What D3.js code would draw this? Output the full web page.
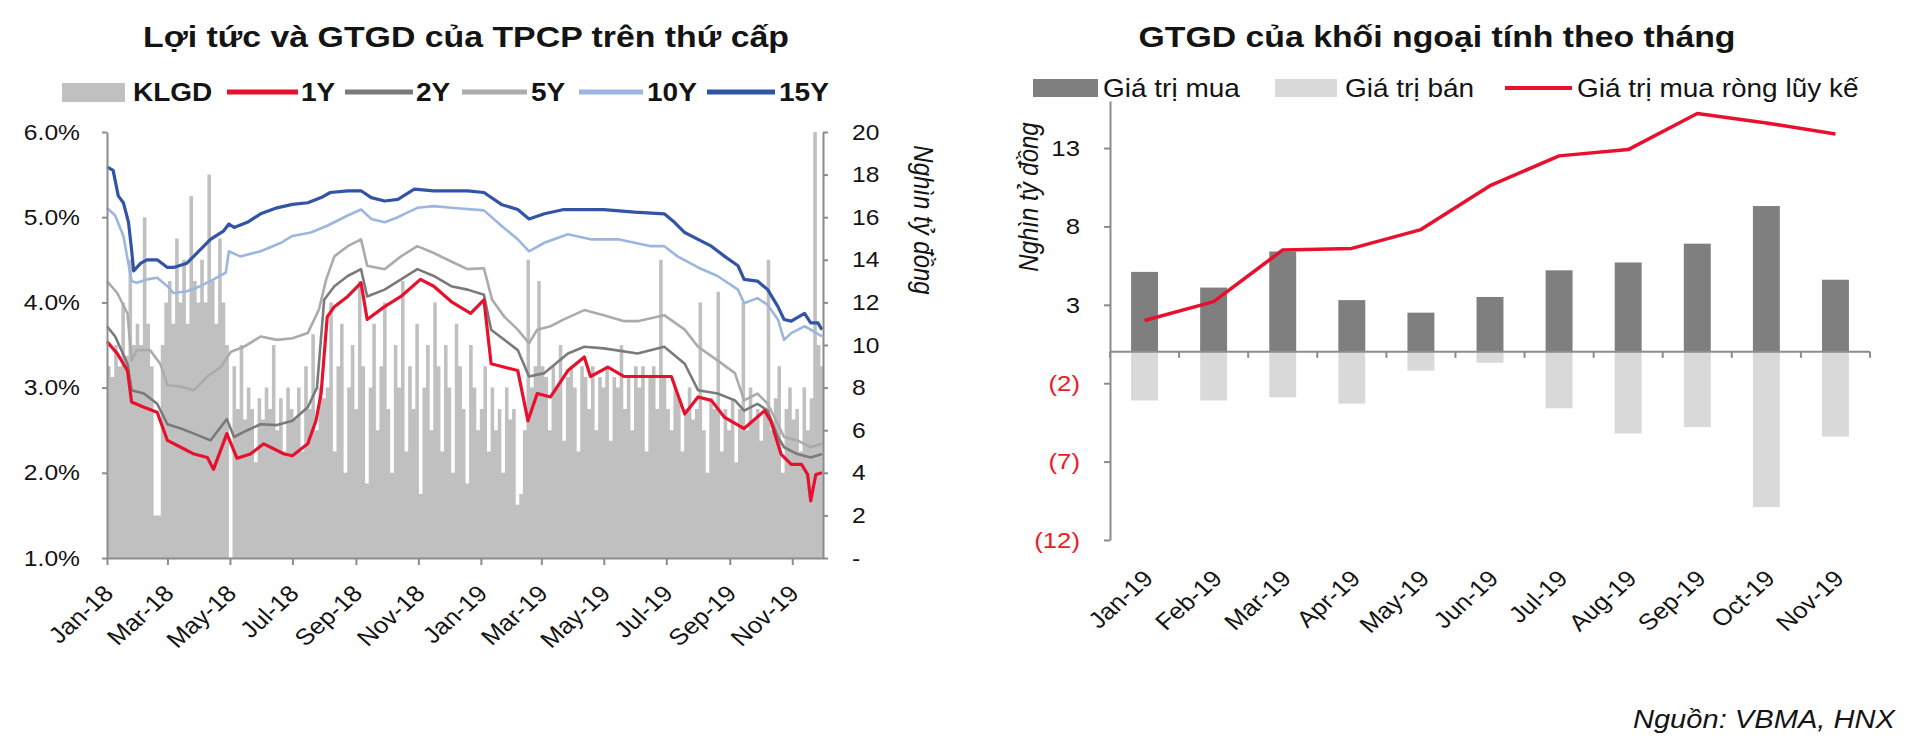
<!DOCTYPE html>
<html><head><meta charset="utf-8">
<script src="https://cdn.jsdelivr.net/npm/d3@7"></script>
<style>
body{margin:0;background:#fff;}
svg{display:block;font-family:"Liberation Sans",Arial,sans-serif;}
</style>
</head><body>
<svg id="c" width="1920" height="754"></svg>
<script>
// ---------------- LEFT CHART DATA ----------------
const leftTitle = "Lợi tức và GTGD của TPCP trên thứ cấp";
const leftLegend = ["KLGD", "1Y", "2Y", "5Y", "10Y", "15Y"];
const leftYTicks = [1, 2, 3, 4, 5, 6];
const rightYTicks = [0, 2, 4, 6, 8, 10, 12, 14, 16, 18, 20];
const rightAxisTitle = "Nghìn tỷ đồng";

const y1Y = [["2018-01-01",3.54],["2018-01-11",3.40],["2018-01-21",3.20],["2018-01-25",2.83],["2018-02-06",2.77],["2018-02-19",2.71],["2018-03-01",2.38],["2018-03-14",2.30],["2018-03-27",2.22],["2018-04-09",2.18],["2018-04-15",2.04],["2018-04-28",2.46],["2018-05-08",2.17],["2018-05-21",2.22],["2018-06-03",2.34],["2018-06-23",2.22],["2018-07-01",2.20],["2018-07-16",2.34],["2018-07-24",2.61],["2018-07-29",2.93],["2018-08-04",3.83],["2018-08-11",3.95],["2018-08-24",4.07],["2018-09-06",4.23],["2018-09-12",3.80],["2018-09-29",3.95],["2018-10-15",4.07],["2018-11-03",4.27],["2018-11-16",4.19],["2018-12-03",4.01],["2018-12-22",3.87],["2019-01-04",4.03],["2019-01-11",3.28],["2019-02-06",3.20],["2019-02-16",2.61],["2019-02-25",2.93],["2019-03-10",2.89],["2019-03-27",3.20],["2019-04-12",3.36],["2019-04-18",3.13],["2019-05-05",3.24],["2019-05-21",3.13],["2019-06-16",3.13],["2019-07-06",3.13],["2019-07-19",2.69],["2019-08-01",2.89],["2019-08-14",2.85],["2019-08-27",2.65],["2019-09-09",2.56],["2019-09-15",2.52],["2019-10-05",2.73],["2019-10-11",2.61],["2019-10-21",2.22],["2019-10-31",2.10],["2019-11-10",2.10],["2019-11-16",1.98],["2019-11-19",1.67],["2019-11-24",1.98],["2019-11-30",2.00]];

const y2Y = [["2018-01-01",3.72],["2018-01-09",3.60],["2018-01-21",3.28],["2018-01-25",2.97],["2018-02-06",2.93],["2018-02-19",2.81],["2018-03-01",2.57],["2018-03-14",2.52],["2018-03-27",2.46],["2018-04-12",2.38],["2018-04-28",2.63],["2018-05-05",2.42],["2018-05-18",2.50],["2018-05-31",2.57],["2018-06-16",2.56],["2018-07-01",2.61],["2018-07-16",2.77],["2018-07-25",3.00],["2018-08-01",4.03],["2018-08-11",4.19],["2018-08-24",4.31],["2018-09-06",4.39],["2018-09-12",4.07],["2018-09-29",4.15],["2018-10-15",4.27],["2018-10-31",4.39],["2018-11-16",4.31],["2018-12-03",4.19],["2018-12-19",4.15],["2019-01-04",4.09],["2019-01-11",3.68],["2019-02-06",3.44],["2019-02-17",3.13],["2019-03-04",3.17],["2019-03-27",3.40],["2019-04-12",3.48],["2019-05-01",3.46],["2019-06-03",3.40],["2019-06-29",3.48],["2019-07-19",3.28],["2019-08-01",2.97],["2019-08-20",2.93],["2019-09-06",2.85],["2019-09-15",2.73],["2019-09-28",2.81],["2019-10-08",2.73],["2019-10-18",2.42],["2019-10-24",2.30],["2019-11-06",2.22],["2019-11-19",2.18],["2019-11-30",2.22]];

const y5Y = [["2018-01-01",4.25],["2018-01-11",4.11],["2018-01-21",3.87],["2018-01-25",3.32],["2018-01-30",3.44],["2018-02-12",3.44],["2018-02-22",3.28],["2018-03-01",3.03],["2018-03-14",3.01],["2018-03-27",2.97],["2018-04-09",3.13],["2018-04-22",3.24],["2018-05-02",3.42],["2018-05-15",3.48],["2018-05-31",3.60],["2018-06-16",3.56],["2018-07-01",3.58],["2018-07-16",3.64],["2018-07-27",3.92],["2018-08-03",4.27],["2018-08-11",4.54],["2018-08-24",4.66],["2018-09-06",4.74],["2018-09-12",4.43],["2018-09-29",4.39],["2018-10-15",4.54],["2018-10-31",4.66],["2018-11-16",4.58],["2018-12-03",4.48],["2018-12-19",4.39],["2019-01-04",4.40],["2019-01-12",4.03],["2019-01-24",3.83],["2019-02-06",3.68],["2019-02-17",3.52],["2019-02-25",3.68],["2019-03-10",3.72],["2019-03-23",3.80],["2019-04-12",3.91],["2019-05-01",3.85],["2019-05-21",3.78],["2019-06-03",3.78],["2019-06-29",3.85],["2019-07-19",3.68],["2019-08-01",3.48],["2019-08-20",3.32],["2019-09-06",3.17],["2019-09-15",2.85],["2019-09-28",2.93],["2019-10-08",2.81],["2019-10-18",2.57],["2019-10-24",2.42],["2019-11-06",2.38],["2019-11-19",2.30],["2019-11-30",2.34]];

const y10Y = [["2018-01-01",5.11],["2018-01-09",5.02],["2018-01-17",4.78],["2018-01-25",4.25],["2018-01-30",4.23],["2018-02-09",4.27],["2018-02-19",4.29],["2018-03-01",4.19],["2018-03-07",4.11],["2018-03-20",4.13],["2018-04-02",4.19],["2018-04-15",4.27],["2018-04-27",4.35],["2018-04-30",4.60],["2018-05-11",4.54],["2018-05-31",4.60],["2018-06-20",4.70],["2018-07-01",4.78],["2018-07-19",4.82],["2018-08-04",4.90],["2018-08-24",5.02],["2018-09-06",5.09],["2018-09-16",4.98],["2018-09-29",4.94],["2018-10-12",5.00],["2018-10-31",5.11],["2018-11-16",5.13],["2018-12-03",5.11],["2019-01-04",5.08],["2019-01-21",4.90],["2019-02-06",4.74],["2019-02-17",4.60],["2019-03-04",4.70],["2019-03-27",4.80],["2019-04-18",4.74],["2019-05-15",4.74],["2019-06-16",4.66],["2019-06-29",4.66],["2019-07-12",4.54],["2019-08-01",4.41],["2019-08-20",4.31],["2019-09-09",4.15],["2019-09-15",3.99],["2019-09-28",4.05],["2019-10-08",3.97],["2019-10-18",3.80],["2019-10-24",3.56],["2019-10-31",3.64],["2019-11-13",3.72],["2019-11-19",3.68],["2019-11-30",3.60]];

const y15Y = [["2018-01-01",5.59],["2018-01-07",5.55],["2018-01-12",5.25],["2018-01-17",5.17],["2018-01-22",4.94],["2018-01-25",4.62],["2018-01-27",4.37],["2018-02-03",4.46],["2018-02-09",4.50],["2018-02-19",4.50],["2018-03-01",4.41],["2018-03-07",4.41],["2018-03-20",4.46],["2018-03-30",4.58],["2018-04-12",4.74],["2018-04-25",4.84],["2018-04-30",4.92],["2018-05-05",4.88],["2018-05-18",4.94],["2018-05-31",5.04],["2018-06-16",5.11],["2018-07-01",5.15],["2018-07-16",5.17],["2018-07-29",5.23],["2018-08-07",5.29],["2018-08-24",5.31],["2018-09-06",5.31],["2018-09-16",5.23],["2018-09-29",5.19],["2018-10-12",5.21],["2018-10-28",5.33],["2018-11-16",5.31],["2018-12-03",5.31],["2018-12-19",5.31],["2019-01-04",5.29],["2019-01-21",5.15],["2019-02-06",5.09],["2019-02-17",4.98],["2019-03-04",5.04],["2019-03-23",5.09],["2019-04-12",5.09],["2019-05-01",5.09],["2019-05-31",5.06],["2019-06-29",5.04],["2019-07-09",4.94],["2019-07-19",4.82],["2019-08-01",4.74],["2019-08-14",4.66],["2019-08-27",4.54],["2019-09-09",4.43],["2019-09-15",4.27],["2019-09-28",4.25],["2019-10-08",4.15],["2019-10-18",3.95],["2019-10-24",3.80],["2019-10-31",3.78],["2019-11-13",3.87],["2019-11-19",3.76],["2019-11-26",3.76],["2019-11-30",3.68]];

// KLGD (nghìn tỷ đồng), one reading every 3.5 days from 2018-01-01
const klgdStart = "2018-01-01";
const klgdStepHours = 84;
const klgdValues = [
 9,8.5,10,9,12,9.5,14,10,11,
 10,16,11,9,2,2,10,12,
 13,11,15,12,14,11,17,13,12,
 14,12,18,13,11,15,12,10,0,
 9,7,10,6.5,8,7,4.5,7.5,6.5,
 8,7,10,6,7.5,5,8,7,
 6.5,8,5,9,7,10.5,6,8,7.5,
 8,12,5,9,11,4,8,10,7,
 13,9,3.5,8,11,6,9,12,
 7,4,10,8,13,5,9,7,11,
 3,8,10,6,12,9,5,10,
 8,4,11,9,7,3.5,10,8,6,
 7,9,5,8,6,7,4,8,6.5,
 7,2.5,3,6,14,8,9,13,
 9,8.5,6,9,8,10,5.5,8.5,9,
 8,5,9,8.5,7,9,6,8.5,8,
 9,5.5,8.5,8,10,7,8.5,6,9,
 8,9,5,8.5,9,7,14,8.5,
 7,6,8,7.5,5,7,8,6.5,7,
 12,6,4,7.5,7,12.5,5,7,6,
 7.5,4.5,7,12,6,8,6.5,7,
 5.5,7,14,6,7.5,9,4,7,8,
 6.5,7,5,8,6,7.5,20,10,9];

// ---------------- RIGHT CHART DATA ----------------
const rightTitle = "GTGD của khối ngoại tính theo tháng";
const rightLegend = ["Giá trị mua", "Giá trị bán", "Giá trị mua ròng lũy kế"];
const months = ["Jan-19","Feb-19","Mar-19","Apr-19","May-19","Jun-19","Jul-19","Aug-19","Sep-19","Oct-19","Nov-19"];
const buyValues = [5.1, 4.1, 6.4, 3.3, 2.5, 3.5, 5.2, 5.7, 6.9, 9.3, 4.6];
const sellValues = [-3.1, -3.1, -2.9, -3.3, -1.2, -0.7, -3.6, -5.2, -4.8, -9.9, -5.4];
const netCumValues = [2.0, 3.2, 6.5, 6.6, 7.8, 10.6, 12.5, 12.9, 15.2, 14.6, 13.9];
const barYTicks = [-12, -7, -2, 3, 8, 13];
const sourceText = "Nguồn: VBMA, HNX";

// ---------------- STYLE ----------------
const S = 1.12;              // horizontal text stretch seen in the picture
const TXT = "#141414";
const AXIS = "#8c8c8c";
const RED = "#e8112d";
const C = {KLGD:"#c0c0c0", "1Y":RED, "2Y":"#7a7a7a", "5Y":"#ababab", "10Y":"#9db6de", "15Y":"#3154a4"};
const W = {"1Y":3.2, "2Y":2.6, "5Y":2.6, "10Y":2.6, "15Y":3.2};

const svg = d3.select("#c");
const parse = d3.timeParse("%Y-%m-%d");

function stretchText(g, x, y, txt, opts) {
  const t = g.append("text")
    .attr("transform", `translate(${x},${y}) scale(${S},1)` + (opts.rot ? ` rotate(${opts.rot})` : ""))
    .attr("text-anchor", opts.anchor || "start")
    .attr("font-size", opts.size)
    .attr("font-weight", opts.weight || "normal")
    .attr("font-style", opts.style || "normal")
    .attr("fill", opts.fill || TXT)
    .text(txt);
  if (opts.dy) t.attr("dy", opts.dy);
  return t;
}

// ================= LEFT CHART =================
const L = svg.append("g");
const xL = d3.scaleTime().domain([parse("2018-01-01"), parse("2019-12-01")]).range([107, 823]);
const yL = d3.scaleLinear().domain([1, 6]).range([558, 132]);
const yR = d3.scaleLinear().domain([0, 20]).range([558, 132]);

// KLGD area
const klgdData = klgdValues.map((v, i) => ({d: d3.timeHour.offset(parse(klgdStart), i * klgdStepHours), v}));
klgdData.push({d: xL.domain()[1], v: klgdValues[klgdValues.length - 1]});
L.append("clipPath").attr("id", "clipL").append("rect").attr("x", 107).attr("y", 100).attr("width", 716).attr("height", 458);
L.append("path")
  .datum(klgdData)
  .attr("clip-path", "url(#clipL)")
  .attr("fill", C.KLGD)
  .attr("d", d3.area().curve(d3.curveStepAfter).x(d => xL(d.d)).y0(yR(0)).y1(d => yR(d.v)));

// yield lines
const lineGen = d3.line().x(d => xL(parse(d[0]))).y(d => yL(d[1]));
[["5Y", y5Y], ["2Y", y2Y], ["1Y", y1Y], ["10Y", y10Y], ["15Y", y15Y]].forEach(([k, arr]) => {
  L.append("path").datum(arr).attr("fill", "none").attr("stroke", C[k])
    .attr("stroke-width", W[k]).attr("stroke-linejoin", "round").attr("d", lineGen);
});

// axes
function styleAxis(g) {
  g.select(".domain").attr("stroke", AXIS).attr("stroke-width", 2);
  g.selectAll(".tick line").attr("stroke", AXIS).attr("stroke-width", 2);
}
const axL = L.append("g").attr("transform", "translate(107,0)")
  .call(d3.axisLeft(yL).tickValues(leftYTicks).tickSize(5).tickSizeOuter(0).tickFormat(d => d.toFixed(1) + "%"));
styleAxis(axL);
axL.selectAll(".tick text").attr("font-size", 22).attr("fill", TXT).attr("font-family", null)
  .attr("x", -27 / S).attr("transform", `scale(${S},1)`);

const axR = L.append("g").attr("transform", "translate(823,0)")
  .call(d3.axisRight(yR).tickValues(rightYTicks).tickSize(5).tickSizeOuter(0).tickFormat(d => d === 0 ? "-" : d));
styleAxis(axR);
axR.selectAll(".tick text").attr("font-size", 22).attr("fill", TXT).attr("font-family", null)
  .attr("x", 29 / S).attr("transform", `scale(${S},1)`);

const xTicks = d3.timeMonth.every(2).range(parse("2018-01-01"), parse("2019-11-02"));
const axB = L.append("g").attr("transform", "translate(0,558)")
  .call(d3.axisBottom(xL).tickValues(xTicks).tickSize(7).tickSizeOuter(0).tickFormat(""));
styleAxis(axB);
const fmt = d3.timeFormat("%b-%y");
xTicks.forEach(t => {
  stretchText(L, xL(t) + 8, 595, fmt(t), {size: 23, anchor: "end", rot: -45});
});

// right axis title
stretchText(L, 914, 220, rightAxisTitle, {size: 24, anchor: "middle", rot: 90, style: "italic"});

// title
L.append("text").attr("x", 466).attr("y", 47).attr("text-anchor", "middle")
  .attr("font-size", 30).attr("font-weight", "bold").attr("fill", TXT)
  .attr("textLength", 646).attr("lengthAdjust", "spacingAndGlyphs").text(leftTitle);

// legend
const legY = 92;
const legItems = [
  {k: "KLGD", x0: 62, x1: 125, tx: 133, rect: true},
  {k: "1Y", x0: 227, x1: 298, tx: 301},
  {k: "2Y", x0: 345, x1: 413, tx: 416},
  {k: "5Y", x0: 462, x1: 527, tx: 531},
  {k: "10Y", x0: 579, x1: 643, tx: 647},
  {k: "15Y", x0: 707, x1: 775, tx: 779}
];
legItems.forEach((it, i) => {
  if (it.rect) {
    L.append("rect").attr("x", it.x0).attr("y", legY - 9).attr("width", it.x1 - it.x0).attr("height", 19).attr("fill", C.KLGD);
  } else {
    L.append("line").attr("x1", it.x0).attr("x2", it.x1).attr("y1", legY).attr("y2", legY)
      .attr("stroke", C[it.k]).attr("stroke-width", 5);
  }
  stretchText(L, it.tx, legY + 9, leftLegend[i], {size: 25, weight: "bold"});
});

// ================= RIGHT CHART =================
const R = svg.append("g");
const xB = d3.scaleBand().domain(months).range([1110, 1870]).paddingInner(0.61).paddingOuter(0.305);
const yB = d3.scaleLinear().domain([-12, 16]).range([540, 101]);
const bw = xB.bandwidth();

R.selectAll("rect.sell").data(months).enter().append("rect").attr("class", "sell")
  .attr("x", d => xB(d)).attr("width", bw)
  .attr("y", yB(0)).attr("height", (d, i) => yB(sellValues[i]) - yB(0))
  .attr("fill", "#d9d9d9");
R.selectAll("rect.buy").data(months).enter().append("rect").attr("class", "buy")
  .attr("x", d => xB(d)).attr("width", bw)
  .attr("y", (d, i) => yB(buyValues[i])).attr("height", (d, i) => yB(0) - yB(buyValues[i]))
  .attr("fill", "#7f7f7f");

// zero axis + category ticks
const step = xB.step();
R.append("line").attr("x1", 1110).attr("x2", 1870).attr("y1", yB(0)).attr("y2", yB(0))
  .attr("stroke", AXIS).attr("stroke-width", 2);
d3.range(months.length + 1).forEach(i => {
  const x = 1110 + i * step;
  R.append("line").attr("x1", x).attr("x2", x).attr("y1", yB(0)).attr("y2", yB(0) + 6)
    .attr("stroke", AXIS).attr("stroke-width", 2);
});

// net cumulative line
R.append("path").datum(netCumValues).attr("fill", "none").attr("stroke", RED).attr("stroke-width", 3.5)
  .attr("stroke-linejoin", "round")
  .attr("d", d3.line().x((d, i) => xB(months[i]) + bw / 2).y(d => yB(d)));

// y axis
const axBL = R.append("g").attr("transform", "translate(1110,0)")
  .call(d3.axisLeft(yB).tickValues(barYTicks).tickSize(6).tickSizeOuter(0).tickFormat(d => d < 0 ? `(${-d})` : d));
styleAxis(axBL);
axBL.selectAll(".tick text").attr("font-size", 23).attr("font-family", null)
  .attr("fill", d => d < 0 ? "#ee1c25" : TXT)
  .attr("x", -30 / S).attr("transform", `scale(${S},1)`);

// x labels
months.forEach(m => {
  stretchText(R, xB(m) + bw / 2 + 10, 580, m, {size: 23, anchor: "end", rot: -45});
});

// axis title
stretchText(R, 1038, 197, rightAxisTitle, {size: 24, anchor: "middle", rot: -90, style: "italic"});

// title
R.append("text").attr("x", 1437).attr("y", 47).attr("text-anchor", "middle")
  .attr("font-size", 30).attr("font-weight", "bold").attr("fill", TXT)
  .attr("textLength", 597).attr("lengthAdjust", "spacingAndGlyphs").text(rightTitle);

// legend
const rLegY = 88;
R.append("rect").attr("x", 1033).attr("y", rLegY - 9).attr("width", 65).attr("height", 18).attr("fill", "#7f7f7f");
stretchText(R, 1103, rLegY + 9, rightLegend[0], {size: 25});
R.append("rect").attr("x", 1275).attr("y", rLegY - 9).attr("width", 62).attr("height", 18).attr("fill", "#d9d9d9");
stretchText(R, 1345, rLegY + 9, rightLegend[1], {size: 25});
R.append("line").attr("x1", 1505).attr("x2", 1572).attr("y1", rLegY).attr("y2", rLegY).attr("stroke", RED).attr("stroke-width", 4);
stretchText(R, 1577, rLegY + 9, rightLegend[2], {size: 25});

// source
stretchText(svg, 1895, 728, sourceText, {size: 26, anchor: "end", style: "italic"});
</script>
</body></html>
